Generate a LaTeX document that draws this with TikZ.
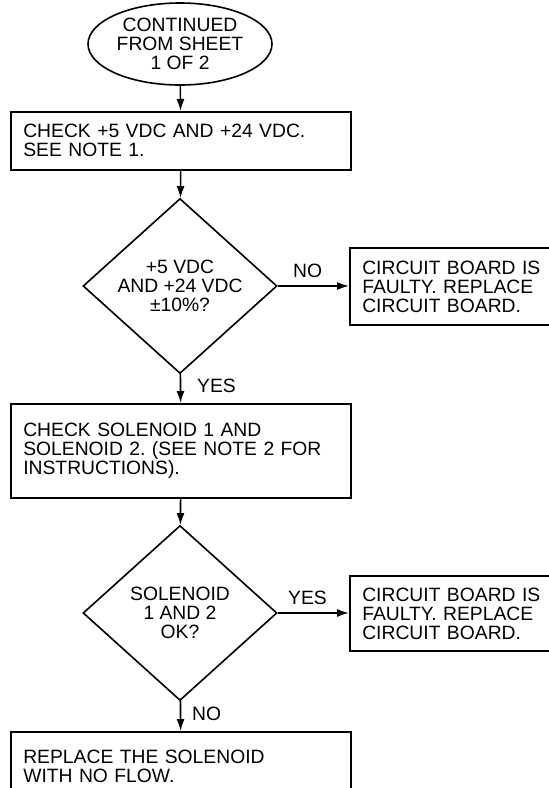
\documentclass[tikz,border=0pt]{standalone}
\usepackage{fontspec}
\setmainfont{Liberation Sans}
\frenchspacing
\usetikzlibrary{shapes.geometric,arrows.meta}
\begin{document}
\begin{tikzpicture}[x=1pt,y=-1pt,
  every node/.style={font=\fontsize{19.3}{19}\selectfont},
  box/.style={draw,line width=1.6pt,rectangle,align=left,inner xsep=12.5pt,inner ysep=0pt},
  dec/.style={draw,line width=1.6pt,diamond,align=center,inner sep=0pt,aspect=1.1,minimum width=194pt,minimum height=175pt},
  term/.style={draw,line width=1.6pt,ellipse,align=center,inner sep=0pt,minimum width=184pt,minimum height=82pt},
  arr/.style={line width=1.6pt,-{Latex[length=12pt,width=8pt]}},
  lbl/.style={inner sep=0pt,anchor=base west}
]
\useasboundingbox (0,0) rectangle (549,788);
\clip (0,0) rectangle (549,788);

\node[term] (o) at (180,44) {CONTINUED\\FROM SHEET\\1 OF 2};
\node[box,text width=315pt,minimum height=58pt,anchor=north west] (b1) at (10,111) {CHECK +5 VDC AND +24 VDC.\\SEE NOTE 1.};
\node[dec] (d1) at (180,286) {+5 VDC\\AND +24 VDC\\±10\%?};
\node[box,text width=226pt,minimum height=77pt,anchor=west] (r1) at (349,286.5) {CIRCUIT BOARD IS\\FAULTY. REPLACE\\CIRCUIT BOARD.};
\node[box,text width=315pt,minimum height=94pt,anchor=north west] (b2) at (10,403) {CHECK SOLENOID 1 AND\\SOLENOID 2. (SEE NOTE 2 FOR\\INSTRUCTIONS).};
\node[dec] (d2) at (180,613) {SOLENOID\\1 AND 2\\OK?};
\node[box,text width=226pt,minimum height=75pt,anchor=west] (r2) at (349,613.5) {CIRCUIT BOARD IS\\FAULTY. REPLACE\\CIRCUIT BOARD.};
\node[box,text width=315pt,minimum height=70pt,anchor=north west] (b3) at (10,731) {REPLACE THE SOLENOID\\WITH NO FLOW.};

\node[lbl] (n1) at (293,277) {NO};
\node[lbl] (y1) at (197,392) {YES};
\node[lbl] (y2) at (288,604) {YES};
\node[lbl] (n2) at (192,720) {NO};

\draw[arr] (o) -- (b1);
\draw[arr] (b1) -- (d1);
\draw[arr] (d1.east) -- (d1.east -| r1.west);
\draw[arr] (d1) -- (b2);
\draw[arr] (b2) -- (d2);
\draw[arr] (d2.east) -- (d2.east -| r2.west);
\draw[arr] (d2) -- (b3);
\end{tikzpicture}
\end{document}
